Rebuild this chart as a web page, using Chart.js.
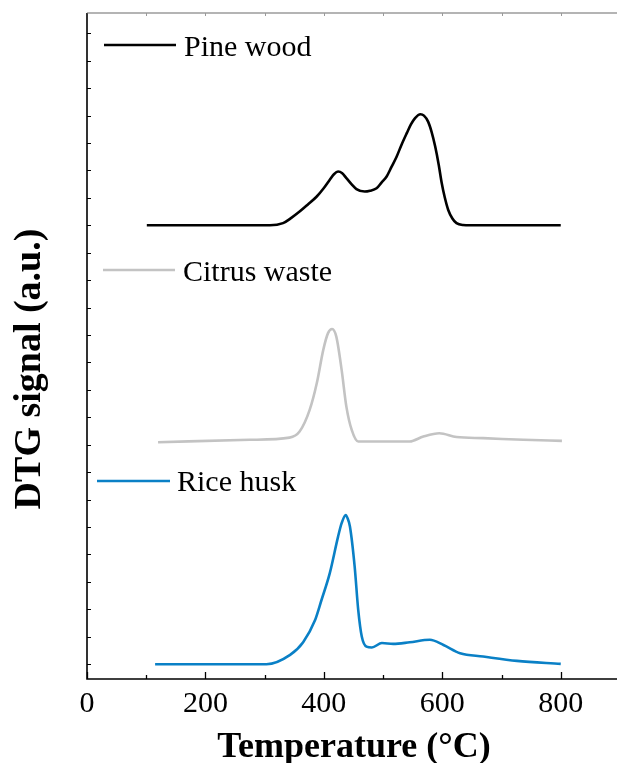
<!DOCTYPE html>
<html>
<head>
<meta charset="utf-8">
<script src="https://cdn.jsdelivr.net/npm/chart.js@4.4.0/dist/chart.umd.min.js"></script>
<style>
  html, body { margin: 0; padding: 0; background: #fff; }
  #dtg { display: block; }
</style>
</head>
<body>
<canvas id="dtg" width="617" height="763"></canvas>
<script>
// DTG curves, stacked with a vertical offset per sample (a.u.)
const pineTemp   = [101, 275, 309, 331, 345, 359, 373, 388, 400, 410, 417, 424, 431, 438, 447, 455, 469, 478, 489, 497, 506, 514, 523, 531, 540, 547, 554, 563, 569, 576, 582, 588, 594, 599, 604, 610, 617, 624, 635, 647, 800];
const pineSignal = [16.0, 16.0, 16.0, 16.08, 16.27, 16.5, 16.76, 17.05, 17.36, 17.66, 17.86, 17.96, 17.9, 17.72, 17.49, 17.32, 17.23, 17.26, 17.35, 17.55, 17.78, 18.12, 18.51, 18.93, 19.36, 19.68, 19.91, 20.05, 20.0, 19.78, 19.4, 18.87, 18.2, 17.54, 17.03, 16.56, 16.25, 16.08, 16.01, 16.0, 16.0];

const citrusTemp   = [120, 275, 342, 359, 376, 388, 399, 407, 414, 421, 430, 438, 447, 458, 545, 568, 595, 624, 669, 737, 802];
const citrusSignal = [8.09, 8.18, 8.26, 8.48, 9.27, 10.24, 11.46, 12.07, 12.22, 11.94, 10.73, 9.39, 8.54, 8.12, 8.12, 8.3, 8.42, 8.28, 8.24, 8.18, 8.14];

const riceTemp   = [115, 303, 343, 365, 385, 396, 410, 424, 430, 437, 440, 444, 452, 458, 464, 472, 481, 498, 517, 545, 579, 602, 630, 669, 726, 800];
const riceSignal = [0.0, 0.0, 0.34, 0.8, 1.6, 2.34, 3.32, 4.65, 5.14, 5.44, 5.32, 5.02, 3.56, 1.98, 1.01, 0.64, 0.61, 0.77, 0.74, 0.8, 0.89, 0.7, 0.4, 0.28, 0.12, 0.01];

const xTicks = [0, 200, 400, 600, 800];
const xMinorStep = 100;
const yTickCount = 24;

const SERIF = '"Liberation Serif", "Times New Roman", serif';

const points = (xs, ys) => xs.map((t, i) => ({ x: t, y: ys[i] }));

// frame, inward ticks, legend labels and the y title
const decorations = {
  id: 'decorations',
  afterDraw(chart) {
    const { ctx, chartArea: a, scales: { x, y } } = chart;
    ctx.save();

    // frame
    ctx.strokeStyle = '#000';
    ctx.lineWidth = 1.6;
    ctx.beginPath();
    ctx.moveTo(a.left, a.top);
    ctx.lineTo(a.left, a.bottom);
    ctx.lineTo(a.right, a.bottom);
    ctx.stroke();
    ctx.strokeStyle = '#6a6a6a';
    ctx.lineWidth = 1.2;
    ctx.beginPath();
    ctx.moveTo(a.left, a.top);
    ctx.lineTo(a.right, a.top);
    ctx.stroke();

    // x ticks, bottom (major/minor) and top
    for (let v = 0; v <= x.max; v += xMinorStep) {
      const px = Math.round(x.getPixelForValue(v)) + 0.5;
      const len = xTicks.includes(v) ? 7 : 4;
      ctx.strokeStyle = '#000';
      ctx.lineWidth = 1.3;
      ctx.beginPath();
      ctx.moveTo(px, a.bottom);
      ctx.lineTo(px, a.bottom - len);
      ctx.stroke();
      if (v > 0) {
        ctx.strokeStyle = '#999';
        ctx.lineWidth = 1;
        ctx.beginPath();
        ctx.moveTo(px, a.top);
        ctx.lineTo(px, a.top + 3);
        ctx.stroke();
      }
    }

    // y ticks (no labels)
    ctx.strokeStyle = '#000';
    ctx.lineWidth = 1;
    for (let k = 0; k < yTickCount; k++) {
      const py = Math.round(y.getPixelForValue(k)) + 0.5;
      ctx.beginPath();
      ctx.moveTo(a.left, py);
      ctx.lineTo(a.left + 4, py);
      ctx.stroke();
    }

    // legend entries placed next to each curve
    const spots = [
      { x1: 104, x2: 176, y: 45, tx: 184, ty: 56 },
      { x1: 103, x2: 175, y: 270, tx: 183, ty: 281 },
      { x1: 97, x2: 170, y: 481, tx: 177, ty: 491 }
    ];
    ctx.font = `30px ${SERIF}`;
    ctx.fillStyle = '#000';
    ctx.textBaseline = 'alphabetic';
    ctx.textAlign = 'left';
    chart.data.datasets.forEach((ds, i) => {
      const s = spots[i];
      ctx.strokeStyle = ds.borderColor;
      ctx.lineWidth = 2.6;
      ctx.beginPath();
      ctx.moveTo(s.x1, s.y);
      ctx.lineTo(s.x2, s.y);
      ctx.stroke();
      ctx.fillText(ds.label, s.tx, s.ty);
    });

    // y axis title
    ctx.font = `bold 38px ${SERIF}`;
    ctx.translate(40, 369);
    ctx.rotate(-Math.PI / 2);
    ctx.textAlign = 'center';
    ctx.fillText('DTG signal (a.u.)', 0, 0);

    ctx.restore();
  }
};

// bottom axis title
const xTitle = {
  id: 'xTitle',
  afterDraw(chart) {
    const { ctx, chartArea: a } = chart;
    ctx.save();
    ctx.font = `bold 36px ${SERIF}`;
    ctx.fillStyle = '#000';
    ctx.textAlign = 'center';
    ctx.textBaseline = 'alphabetic';
    ctx.fillText('Temperature (°C)', (a.left + a.right) / 2 + 2, 757);
    ctx.restore();
  }
};

const lineStyle = { pointRadius: 0, borderWidth: 2.6, fill: false, cubicInterpolationMode: 'monotone' };

new Chart(document.getElementById('dtg'), {
  type: 'line',
  data: {
    datasets: [
      { label: 'Pine wood', data: points(pineTemp, pineSignal), borderColor: '#000000', ...lineStyle },
      { label: 'Citrus waste', data: points(citrusTemp, citrusSignal), borderColor: '#c3c3c3', ...lineStyle },
      { label: 'Rice husk', data: points(riceTemp, riceSignal), borderColor: '#0a80c6', ...lineStyle }
    ]
  },
  options: {
    responsive: false,
    devicePixelRatio: 1,
    animation: false,
    layout: { padding: { top: 13, right: 0, bottom: 0, left: 0 } },
    plugins: { legend: { display: false }, tooltip: { enabled: false } },
    scales: {
      x: {
        type: 'linear',
        min: 0,
        max: 895,
        grid: { display: false, drawTicks: false },
        border: { display: false },
        afterBuildTicks: s => { s.ticks = xTicks.map(v => ({ value: v })); },
        ticks: { color: '#000', font: { family: SERIF, size: 30 }, padding: 7, maxRotation: 0 },
        afterFit: s => { s.height = 84; }
      },
      y: {
        min: -0.54,
        max: 23.74,
        grid: { display: false, drawTicks: false },
        border: { display: false },
        ticks: { display: false },
        afterFit: s => { s.width = 87; }
      }
    }
  },
  plugins: [decorations, xTitle]
});
</script>
</body>
</html>
